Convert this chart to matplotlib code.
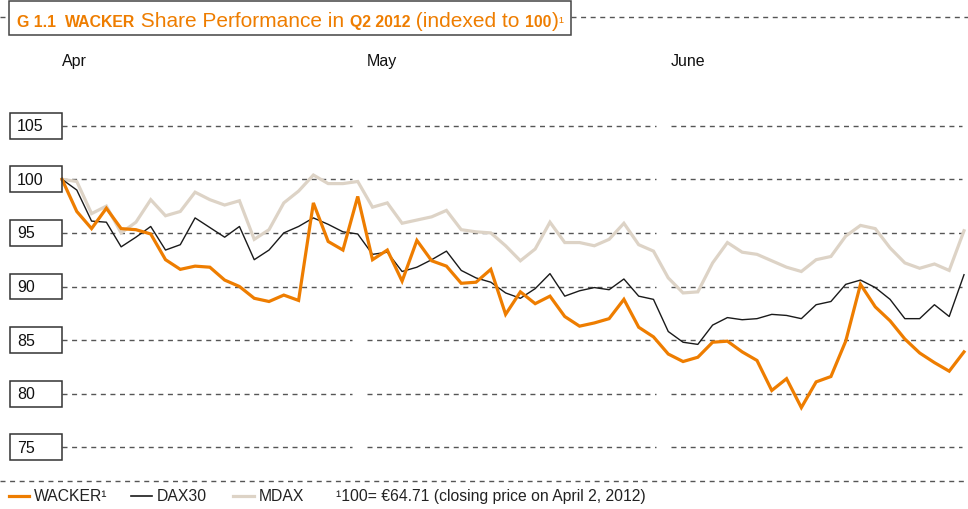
import numpy as np
import matplotlib
matplotlib.use("Agg")
import matplotlib.pyplot as plt
from matplotlib.patches import Rectangle
from matplotlib.lines import Line2D
from matplotlib import transforms, font_manager

# indexed closing prices, Apr 2 - Jun 29 2012 (trading days)
wacker = [100.0, 97.0, 95.4, 97.3, 95.4, 95.3, 94.9, 92.5, 91.6, 91.9,
          91.8, 90.6, 90.0, 88.9, 88.6, 89.2, 88.7, 97.8, 94.2, 93.4,
          98.4, 92.5, 93.4, 90.5, 94.3, 92.4, 91.9, 90.3, 90.4, 91.6,
          87.4, 89.5, 88.4, 89.1, 87.2, 86.3, 86.6, 87.0, 88.8, 86.2,
          85.3, 83.7, 83.0, 83.4, 84.8, 84.9, 83.9, 83.1, 80.3, 81.4,
          78.7, 81.1, 81.6, 84.9, 90.2, 88.1, 86.8, 85.1, 83.8, 82.9,
          82.1, 83.9]
dax = [100.0, 99.0, 96.1, 96.0, 93.7, 94.6, 95.6, 93.4, 93.9, 96.4,
       95.5, 94.6, 95.6, 92.5, 93.4, 95.0, 95.6, 96.4, 95.8, 95.1,
       94.9, 93.0, 93.2, 91.4, 91.8, 92.5, 93.3, 91.5, 90.8, 90.4,
       89.4, 88.9, 89.8, 91.2, 89.1, 89.6, 89.9, 89.7, 90.7, 89.1,
       88.8, 85.8, 84.8, 84.6, 86.4, 87.1, 86.9, 87.0, 87.4, 87.3,
       87.0, 88.3, 88.6, 90.2, 90.6, 89.9, 88.8, 87.0, 87.0, 88.3,
       87.2, 91.1]
mdax = [100.0, 99.8, 96.8, 97.5, 95.0, 96.0, 98.1, 96.6, 97.0, 98.8,
        98.1, 97.6, 98.0, 94.4, 95.3, 97.8, 98.9, 100.4, 99.6, 99.6,
        99.8, 97.4, 97.8, 95.9, 96.2, 96.5, 97.1, 95.3, 95.1, 95.0,
        93.8, 92.4, 93.5, 96.0, 94.1, 94.1, 93.8, 94.4, 95.9, 93.9,
        93.3, 90.8, 89.4, 89.5, 92.2, 94.1, 93.2, 93.0, 92.4, 91.8,
        91.4, 92.5, 92.8, 94.7, 95.7, 95.4, 93.6, 92.2, 91.7, 92.1,
        91.5, 95.2]
months = ["Apr", "May", "June"]
yticks = [105, 100, 95, 90, 85, 80, 75]

ORANGE = "#EE7D00"
BLACK = "#1a1a1a"
BEIGE = "#DDD3C6"
GRID = "#555555"
FONT = "Liberation Sans"
names = {f.name for f in font_manager.fontManager.ttflist}
if "Liberation Sans Narrow" in names:
    NARROW, LEG_SIZE = "Liberation Sans Narrow", 13
else:
    NARROW, LEG_SIZE = FONT, 11.3

W, H = 968, 510
fig = plt.figure(figsize=(W / 100, H / 100), dpi=100)

# plot area: first day at x=62px, last day at 964px; y 74..106
ax = fig.add_axes([62 / W, 51 / H, 902 / W, 343 / H])
ax.axis("off")
n = len(wacker)
x = np.arange(n)
ax.set_xlim(0, n - 1)
ax.set_ylim(74, 106)
step = 902 / (n - 1)

# dashed gridlines, broken between months
spans = [(62, 352), (367, 656), (671, 962)]
for y in yticks:
    for a, b in spans:
        ax.plot([(a - 62) / step, (b - 62) / step], [y, y], color=GRID,
                lw=1.0, dashes=(3.6, 3.3), clip_on=False, zorder=1)

ax.plot(x, mdax, color=BEIGE, lw=2.3, clip_on=False, zorder=2,
        solid_joinstyle="miter")
ax.plot(x, dax, color=BLACK, lw=1.0, clip_on=False, zorder=3)
ax.plot(x, wacker, color=ORANGE, lw=2.3, clip_on=False, zorder=4,
        solid_joinstyle="miter")

# boxed y labels
tr = transforms.blended_transform_factory(fig.transFigure, ax.transData)
box_h = 26 / 10.72
for y in yticks:
    fig.patches.append(Rectangle((9.5 / W, y - box_h / 2), 52.5 / W, box_h,
                                 transform=tr, fill=False, ec="#333333", lw=1.1))
    fig.text(17 / W, y, str(y), transform=tr, ha="left", va="center",
             fontsize=11.5, family=FONT, color="#111111")

for m, px in zip(months, [62, 367, 671]):
    fig.text(px / W, 1 - 61.5 / H, m, ha="left", va="center",
             fontsize=11.5, family=FONT, color="#111111")

# title box
fig.patches.append(Rectangle((8.5 / W, 1 - 35.5 / H), 562 / W, 34 / H,
                             transform=fig.transFigure, fill=False,
                             ec="#444444", lw=1.1))
for a, b in [(0, 8), (571, 968)]:
    fig.lines.append(Line2D([a / W, b / W], [1 - 18 / H] * 2,
                            transform=fig.transFigure, color=GRID, lw=1.0,
                            dashes=(3.6, 3.3)))

renderer = fig.canvas.get_renderer()
runs = [("G 1.1  ", 11.4, "bold"), ("WACKER", 11.4, "bold"),
        (" Share Performance in ", 15, "normal"),
        ("Q2 2012", 11.4, "bold"), (" (indexed to ", 15, "normal"),
        ("100", 11.4, "bold"), (")", 15, "normal"), ("\u00b9", 10.5, "normal")]
tx = 17
for s, size, weight in runs:
    t = fig.text(tx / W, 1 - 27 / H, s, ha="left", va="baseline",
                 fontsize=size, fontweight=weight, family=FONT, color=ORANGE)
    tx += t.get_window_extent(renderer).width

# legend
fig.lines.append(Line2D([0, 1], [1 - 482 / H] * 2, transform=fig.transFigure,
                        color=GRID, lw=1.0, dashes=(3.6, 3.3)))
items = [("WACKER\u00b9", ORANGE, 2.3, 9, 29), ("DAX30", BLACK, 1.2, 131, 152),
         ("MDAX", BEIGE, 2.3, 233, 254)]
for label, c, lw, a, b in items:
    fig.lines.append(Line2D([a / W, b / W], [1 - 497 / H] * 2,
                            transform=fig.transFigure, color=c, lw=lw))
    fig.text((b + 5) / W, 1 - 497 / H, label, ha="left", va="center",
             fontsize=LEG_SIZE, family=NARROW, color="#222222")
fig.text(336 / W, 1 - 497 / H, "\u00b9100= \u20ac64.71 (closing price on April 2, 2012)",
         ha="left", va="center", fontsize=LEG_SIZE, family=NARROW, color="#222222")

fig.savefig("out.png", dpi=100)
